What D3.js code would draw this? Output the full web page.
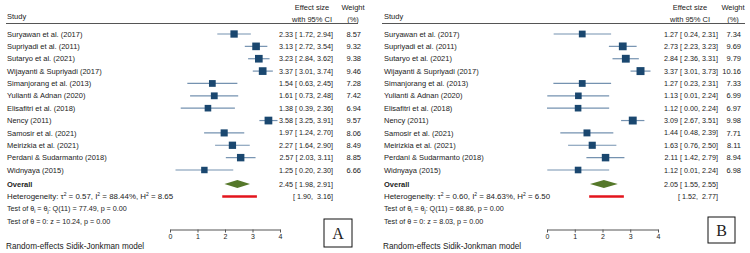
<!DOCTYPE html>
<html>
<head>
<meta charset="utf-8">
<script src="https://cdn.jsdelivr.net/npm/d3@7"></script>
<style>
  body { margin: 0; background: #fff; }
  svg { font-family: "Liberation Sans", Arial, sans-serif; }
  text { fill: #222; }
</style>
</head>
<body>
<svg id="chart" width="750" height="253"></svg>
<script>
/* DATA */
const studies = ["Suryawan et al. (2017)", "Supriyadi et al. (2011)", "Sutaryo et al. (2021)",
  "Wijayanti & Supriyadi (2017)", "Simanjorang et al. (2013)", "Yulianti & Adnan (2020)",
  "Elisafitri et al. (2018)", "Nency (2011)", "Samosir et al. (2021)", "Meirizkia et al. (2021)",
  "Perdani & Sudarmanto (2018)", "Widnyaya (2015)"];

const effectA = [2.33, 3.13, 3.23, 3.37, 1.54, 1.61, 1.38, 3.58, 1.97, 2.27, 2.57, 1.25];
const lowerA  = [1.72, 2.72, 2.84, 3.01, 0.63, 0.73, 0.39, 3.25, 1.24, 1.64, 2.03, 0.20];
const upperA  = [2.94, 3.54, 3.62, 3.74, 2.45, 2.48, 2.36, 3.91, 2.70, 2.90, 3.11, 2.30];
const weightA = [8.57, 9.32, 9.38, 9.46, 7.28, 7.42, 6.94, 9.57, 8.06, 8.49, 8.85, 6.66];
const overallA = [2.45, 1.98, 2.91];
const predA = [1.90, 3.16];
const hetA = ["0.57", "88.44%", "8.65", "77.49", "10.24"];

const effectB = [1.27, 2.73, 2.84, 3.37, 1.27, 1.13, 1.12, 3.09, 1.44, 1.63, 2.11, 1.12];
const lowerB  = [0.24, 2.23, 2.36, 3.01, 0.23, 0.01, 0.00, 2.67, 0.48, 0.76, 1.42, 0.01];
const upperB  = [2.31, 3.23, 3.31, 3.73, 2.31, 2.24, 2.24, 3.51, 2.39, 2.50, 2.79, 2.24];
const weightB = [7.34, 9.69, 9.79, 10.16, 7.33, 6.99, 6.97, 9.98, 7.71, 8.11, 8.94, 6.98];
const overallB = [2.05, 1.55, 2.55];
const predB = [1.52, 2.77];
const hetB = ["0.60", "84.63%", "6.50", "68.86", "8.03"];

const ticks = [0, 1, 2, 3, 4];

/* LAYOUT */
const panels = [
  { letter: "A", effect: effectA, lower: lowerA, upper: upperA, weight: weightA, overall: overallA, pred: predA, het: hetA,
    left: 7, lineX: [6, 358], plot: [170, 280], esEnd: 333, esHead: 312, wEnd: 361, wHead: 353, box: [324, 219, 28, 28] },
  { letter: "B", effect: effectB, lower: lowerB, upper: upperB, weight: weightB, overall: overallB, pred: predB, het: hetB,
    left: 384, lineX: [382, 745], plot: [547, 658], esEnd: 718, esHead: 690, wEnd: 741, wHead: 733, box: [708, 217, 27, 26] }
];

const fs = 7.5;     // names, headers, weights
const fsNum = 7.2;  // effect-size column
const fsHet = 7.9;
const fsTest = 7.2;
const fsNote = 8.2;
const sup = 5;
const svg = d3.select("#chart");
svg.append("rect").attr("width", 750).attr("height", 253).attr("fill", "#fff");

const yScale = d3.scalePoint().domain(studies).range([34, 170]);
const sizeScale = d3.scaleSqrt().domain([0, 10]).range([0, 7.9]);
const f2 = d3.format(".2f");

function draw(p) {
  const g = svg.append("g");
  const xScale = d3.scaleLinear().domain([0, 4]).range(p.plot);

  // headers
  g.append("text").attr("x", p.left).attr("y", 16).attr("dy", "0.35em").attr("font-size", fs).text("Study");
  g.append("text").attr("x", p.esHead).attr("y", 7).attr("dy", "0.35em").attr("font-size", fs).attr("text-anchor", "middle").text("Effect size");
  g.append("text").attr("x", p.esHead).attr("y", 19).attr("dy", "0.35em").attr("font-size", fs).attr("text-anchor", "middle").text("with 95% CI");
  g.append("text").attr("x", p.wHead).attr("y", 7).attr("dy", "0.35em").attr("font-size", fs).attr("text-anchor", "middle").text("Weight");
  g.append("text").attr("x", p.wHead).attr("y", 19).attr("dy", "0.35em").attr("font-size", fs).attr("text-anchor", "middle").text("(%)");
  g.append("line").attr("x1", p.lineX[0]).attr("x2", p.lineX[1]).attr("y1", 23.5).attr("y2", 23.5)
    .attr("stroke", "#555").attr("stroke-width", 1);

  const rows = studies.map((s, i) => ({ s, e: p.effect[i], lo: p.lower[i], hi: p.upper[i], w: p.weight[i] }));

  // study names
  g.selectAll(".name").data(rows).join("text")
    .attr("x", p.left).attr("y", d => yScale(d.s)).attr("dy", "0.35em").attr("font-size", fs).text(d => d.s);

  // CI lines
  g.selectAll(".ci").data(rows).join("line")
    .attr("x1", d => xScale(d.lo)).attr("x2", d => xScale(d.hi))
    .attr("y1", d => yScale(d.s)).attr("y2", d => yScale(d.s))
    .attr("stroke", "#7592b0").attr("stroke-width", 1.2);

  // squares
  g.selectAll(".sq").data(rows).join("rect")
    .attr("x", d => xScale(d.e) - sizeScale(d.w) / 2)
    .attr("y", d => yScale(d.s) - sizeScale(d.w) / 2)
    .attr("width", d => sizeScale(d.w)).attr("height", d => sizeScale(d.w))
    .attr("fill", "#1a476f");

  // effect text
  g.selectAll(".es").data(rows).join("text")
    .attr("x", p.esEnd).attr("y", d => yScale(d.s)).attr("dy", "0.35em").attr("font-size", fsNum)
    .attr("text-anchor", "end").style("white-space", "pre")
    .text(d => `${f2(d.e)} [ ${f2(d.lo)}, ${f2(d.hi)}]`);

  g.selectAll(".wt").data(rows).join("text")
    .attr("x", p.wEnd).attr("y", d => yScale(d.s)).attr("dy", "0.35em").attr("font-size", fs)
    .attr("text-anchor", "end").text(d => f2(d.w));

  // overall
  const oy = 184;
  g.append("text").attr("x", p.left).attr("y", oy).attr("dy", "0.35em").attr("font-size", fs)
    .attr("font-weight", "bold").text("Overall");
  const [oe, olo, ohi] = p.overall;
  g.append("path")
    .attr("d", `M${xScale(olo)},${oy} L${xScale(oe)},${oy - 4} L${xScale(ohi)},${oy} L${xScale(oe)},${oy + 4} Z`)
    .attr("fill", "#55782a");
  g.append("text").attr("x", p.esEnd).attr("y", oy).attr("dy", "0.35em").attr("font-size", fsNum)
    .attr("text-anchor", "end").style("white-space", "pre")
    .text(`${f2(oe)} [ ${f2(olo)}, ${f2(ohi)}]`);

  // prediction interval
  const py = 196.5;
  g.append("line").attr("x1", xScale(p.pred[0])).attr("x2", xScale(p.pred[1]))
    .attr("y1", py).attr("y2", py).attr("stroke", "#e3141c").attr("stroke-width", 2.4);
  g.append("text").attr("x", p.esEnd).attr("y", py).attr("dy", "0.35em").attr("font-size", fsNum)
    .attr("text-anchor", "end").style("white-space", "pre")
    .text(`[ ${f2(p.pred[0])},  ${f2(p.pred[1])}]`);

  // heterogeneity
  const h = g.append("text").attr("x", p.left).attr("y", 196).attr("dy", "0.35em").attr("font-size", fsHet);
  h.append("tspan").text("Heterogeneity: τ");
  h.append("tspan").attr("font-size", sup).attr("dy", -3).text("2");
  h.append("tspan").attr("dy", 3).text(` = ${p.het[0]}, I`);
  h.append("tspan").attr("font-size", sup).attr("dy", -3).text("2");
  h.append("tspan").attr("dy", 3).text(` = ${p.het[1]}, H`);
  h.append("tspan").attr("font-size", sup).attr("dy", -3).text("2");
  h.append("tspan").attr("dy", 3).text(` = ${p.het[2]}`);

  const t1 = g.append("text").attr("x", p.left).attr("y", 208.5).attr("dy", "0.35em").attr("font-size", fsTest);
  t1.append("tspan").text("Test of θ");
  t1.append("tspan").attr("font-size", sup).attr("dy", 1.8).text("i");
  t1.append("tspan").attr("dy", -1.8).text(" = θ");
  t1.append("tspan").attr("font-size", sup).attr("dy", 1.8).text("j");
  t1.append("tspan").attr("dy", -1.8).text(`: Q(11) = ${p.het[3]}, p = 0.00`);

  g.append("text").attr("x", p.left).attr("y", 221).attr("dy", "0.35em").attr("font-size", fsTest)
    .text(`Test of θ = 0: z = ${p.het[4]}, p = 0.00`);

  g.append("text").attr("x", p.left - 1).attr("y", 246).attr("dy", "0.35em").attr("font-size", fsNote)
    .text("Random-effects Sidik-Jonkman model");

  // axis
  const axis = g.append("g").attr("transform", "translate(0,229.5)")
    .call(d3.axisBottom(xScale).tickValues(ticks).tickFormat(d3.format("d")).tickSize(3).tickSizeOuter(0).tickPadding(1.5));
  axis.selectAll("path, line").attr("stroke", "#555");
  axis.selectAll("text").attr("font-size", 7).attr("fill", "#333")
    .attr("font-family", "'Liberation Sans', Arial, sans-serif");

  // letter box
  const [bx, by, bw, bh] = p.box;
  g.append("rect").attr("x", bx).attr("y", by).attr("width", bw).attr("height", bh)
    .attr("fill", "none").attr("stroke", "#111").attr("stroke-width", 1);
  g.append("text").attr("x", bx + bw / 2).attr("y", by + bh / 2).attr("dy", "0.36em")
    .attr("text-anchor", "middle").attr("font-family", "'Liberation Serif', 'Times New Roman', serif")
    .attr("font-size", 16).attr("fill", "#111").text(p.letter);
}

panels.forEach(draw);
</script>
</body>
</html>
